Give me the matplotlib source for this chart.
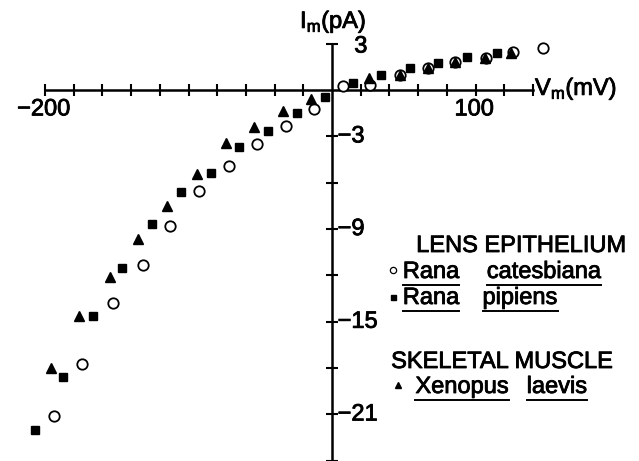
import matplotlib
matplotlib.use("Agg")
import matplotlib.pyplot as plt
import matplotlib.patheffects as pe
from matplotlib.lines import Line2D
import numpy as np

plt.rcParams['font.family'] = ['Liberation Sans', 'DejaVu Sans']
plt.rcParams['mathtext.fontset'] = 'custom'
plt.rcParams['mathtext.rm'] = 'Liberation Sans'

# lens epithelium, Rana catesbiana (open circles)
catesbiana_v = [-194, -174, -153, -132, -113, -93, -72, -52, -32, -12.5,
                7.5, 26.5, 47, 67, 86, 107, 126, 147]
catesbiana_i = [-21.1, -17.7, -13.8, -11.3, -8.8, -6.55, -4.9, -3.5, -2.33, -1.23,
                0.26, 0.32, 0.97, 1.42, 1.81, 2.07, 2.46, 2.72]

# lens epithelium, Rana pipiens (filled squares)
pipiens_v = [-207, -187.5, -166.5, -146.5, -125.5, -105, -84.5, -65, -44.5, -24.5,
             -5, 14.5, 34, 54.5, 74, 94, 115]
pipiens_i = [-22.0, -18.6, -14.6, -11.5, -8.67, -6.6, -5.37, -3.69, -2.65, -1.49,
             -0.45, 0.45, 0.97, 1.42, 1.75, 2.14, 2.39]

# skeletal muscle, Xenopus laevis (filled triangles)
xenopus_v = [-196, -176, -155, -135, -115, -94, -74, -54.5, -34, -14.5,
             26, 47, 67, 86, 106.5, 125]
xenopus_i = [-18.0, -14.6, -12.1, -9.64, -7.51, -5.44, -3.43, -2.39, -1.36, -0.58,
             0.78, 0.97, 1.42, 1.81, 2.07, 2.39]

xticks = [v for v in range(-200, 141, 20) if v != 0]
yticks = [v for v in range(-24, 4, 3) if v != 0]
xlabels = {-200: '\u2212200', 100: '100'}
ylabels = {3: '3', -3: '\u22123', -9: '\u22129', -15: '\u221215', -21: '\u221221'}

W, H = 639, 461
FS = 17
# slightly heavier text, like the printed figure
heavy = [pe.withStroke(linewidth=0.6, foreground='black')]

fig = plt.figure(figsize=(W / 100, H / 100), dpi=100)
ax = fig.add_axes([0, 0, 1, 1])
ax.set_xlim(-231.4, 213.9)
ax.set_ylim(-24.01, 5.83)

for s in ['top', 'right']:
    ax.spines[s].set_visible(False)
ax.spines['left'].set_position(('data', 0))
ax.spines['bottom'].set_position(('data', 0))
ax.spines['bottom'].set_bounds(-200, 140)
ax.spines['left'].set_bounds(-24, 3)
ax.spines['left'].set_linewidth(1.8)
ax.spines['bottom'].set_linewidth(1.8)
ax.xaxis.set_ticks_position('bottom')
ax.yaxis.set_ticks_position('left')
ax.set_xticks(xticks)
ax.set_yticks(yticks)
ax.tick_params(direction='inout', length=8, width=1.5, labelbottom=False, labelleft=False)

# tick labels
for v, s in xlabels.items():
    ax.annotate(s, xy=(v, 0), xytext=(-1, -6), textcoords='offset points',
                ha='center', va='top', fontsize=FS, path_effects=heavy)
for v, s in ylabels.items():
    dx = 16 if v > 0 else 4
    dy = -2 if v > 0 else 0
    ax.annotate(s, xy=(0, v), xytext=(dx, dy), textcoords='offset points',
                ha='left', va='center', fontsize=FS, path_effects=heavy)

# data
ax.plot(catesbiana_v, catesbiana_i, 'o', ms=7.5, mfc='white', mec='black', mew=1.3, zorder=3)
ax.plot(xenopus_v, xenopus_i, '^', ms=6.5, color='black', zorder=4)
ax.plot(pipiens_v, pipiens_i, 's', ms=5.8, color='black', zorder=4)


def fx(x):
    return x / W


def fy(y):
    return 1 - y / H


# axis titles
fig.text(fx(300), fy(28), r'I$_\mathregular{m}$(pA)', fontsize=FS, ha='left', va='baseline',
         path_effects=heavy)
fig.text(fx(535), fy(95), r'V$_\mathregular{m}$(mV)', fontsize=FS, ha='left', va='baseline',
         path_effects=heavy)

# legend
renderer = fig.canvas.get_renderer()


def underlined(xc, yb, word):
    t = fig.text(fx(xc), fy(yb), word, fontsize=FS, ha='center', va='baseline',
                 path_effects=heavy)
    bb = t.get_window_extent(renderer)
    fig.add_artist(Line2D([bb.x0 / W, bb.x1 / W], [fy(yb + 7)] * 2,
                          transform=fig.transFigure, color='black', lw=1.4))


fig.text(fx(521), fy(252), 'LENS EPITHELIUM', fontsize=FS, ha='center', va='baseline',
         path_effects=heavy)
fig.add_artist(Line2D([fx(393)], [fy(270)], transform=fig.transFigure, marker='o',
                      ms=4.5, mfc='white', mec='black', mew=0.9, ls='none'))
underlined(431, 278, 'Rana')
underlined(544, 278, 'catesbiana')
fig.add_artist(Line2D([fx(393)], [fy(297)], transform=fig.transFigure, marker='s',
                      ms=3.6, color='black', ls='none'))
underlined(431, 304, 'Rana')
underlined(520, 304, 'pipiens')
fig.text(fx(502), fy(368), 'SKELETAL MUSCLE', fontsize=FS, ha='center', va='baseline',
         path_effects=heavy)
fig.add_artist(Line2D([fx(398)], [fy(385)], transform=fig.transFigure, marker='^',
                      ms=4.8, color='black', ls='none'))
underlined(462, 393, 'Xenopus')
underlined(557, 393, 'laevis')

fig.savefig('out.png', dpi=100)
